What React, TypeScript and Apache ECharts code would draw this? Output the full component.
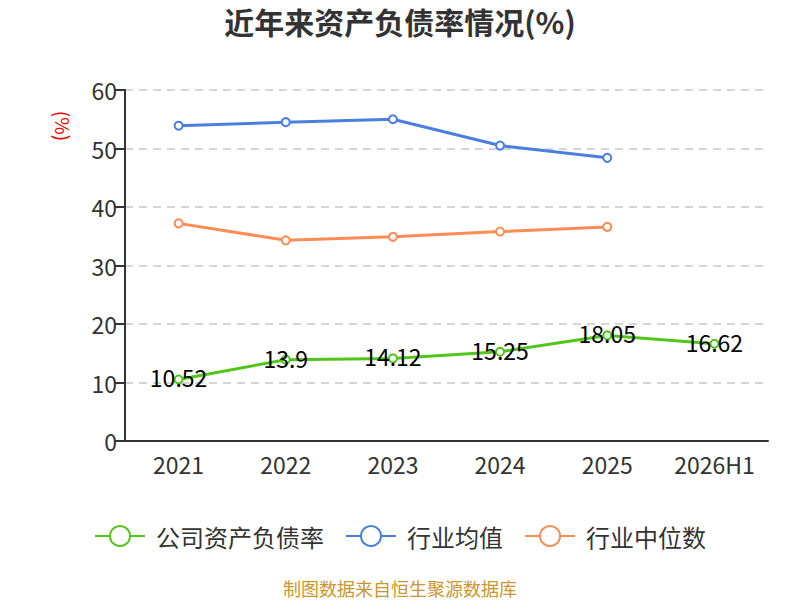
import React, { useEffect, useRef } from "react";
import * as echarts from "echarts";

const categories = ["2021", "2022", "2023", "2024", "2025", "2026H1"];
const companyRatio = [10.52, 13.9, 14.12, 15.25, 18.05, 16.62];
const industryAvg = [53.9, 54.5, 55.0, 50.5, 48.4, null];
const industryMedian = [37.2, 34.3, 34.9, 35.8, 36.6, null];
const seriesNames = ["公司资产负债率", "行业均值", "行业中位数"];
const colors = ["#52c41a", "#4a7fe0", "#ff8c55"];

const FONT = "'Noto Sans CJK SC', 'Noto Sans', sans-serif";

export default function App() {
  const ref = useRef<HTMLDivElement>(null);
  useEffect(() => {
    if (!ref.current) return;
    const chart = echarts.init(ref.current, null, { renderer: "svg" });
    const mkSeries = (name: string, data: any[], color: string, withLabel: boolean) => ({
      name,
      type: "line",
      data,
      symbol: "emptyCircle",
      symbolSize: 8,
      lineStyle: { width: 3, color },
      itemStyle: { color, borderWidth: 2 },
      label: withLabel
        ? { show: true, position: "inside", fontSize: 23, color: "#000", fontFamily: FONT, offset: [0, -2] }
        : { show: false },
    });
    chart.setOption({
      animation: false,
      textStyle: { fontFamily: FONT },
      title: {
        text: "近年来资产负债率情况(%)",
        left: "center",
        top: 1,
        textStyle: { fontSize: 30, fontWeight: "bold", color: "#333", fontFamily: FONT },
      },
      grid: { left: 125, right: 32, top: 90, bottom: 159 },
      legend: {
        data: seriesNames,
        top: 519,
        left: "center",
        itemWidth: 50,
        itemHeight: 25,
        itemGap: 21,
        textStyle: { fontSize: 24, color: "#333", fontFamily: FONT, padding: [0, 0, 0, 6] },
      },
      xAxis: {
        type: "category",
        data: categories,
        boundaryGap: true,
        axisLine: { lineStyle: { color: "#333", width: 2 } },
        axisTick: { length: 8, lineStyle: { color: "#333", width: 2 } },
        axisLabel: { fontSize: 23, color: "#333", margin: 11, fontFamily: FONT },
      },
      yAxis: {
        type: "value",
        min: 0,
        max: 60,
        interval: 10,
        axisLine: { show: true, lineStyle: { color: "#333", width: 2 } },
        axisTick: { show: true, length: 10, lineStyle: { color: "#333", width: 2 } },
        axisLabel: { fontSize: 23, color: "#333", margin: 8, fontFamily: FONT },
        splitLine: { lineStyle: { type: [8, 6], color: "#c8c8c8", width: 1.5 } },
      },
      graphic: [
        {
          type: "text",
          x: 63,
          y: 126,
          rotation: -Math.PI / 2,
          style: {
            text: "(%)",
            fill: "#e00",
            fontSize: 19,
            fontFamily: FONT,
            align: "center",
            verticalAlign: "middle",
          },
        },
        {
          type: "text",
          x: 400,
          y: 588,
          style: {
            text: "制图数据来自恒生聚源数据库",
            fill: "#c9962f",
            fontSize: 18,
            fontFamily: FONT,
            align: "center",
            verticalAlign: "middle",
          },
        },
      ],
      series: [
        mkSeries(seriesNames[0], companyRatio, colors[0], true),
        mkSeries(seriesNames[1], industryAvg, colors[1], false),
        mkSeries(seriesNames[2], industryMedian, colors[2], false),
      ],
    });
    return () => chart.dispose();
  }, []);
  return (
    <div
      ref={ref}
      style={{ position: "absolute", left: 0, top: 0, width: 800, height: 600 }}
    />
  );
}
